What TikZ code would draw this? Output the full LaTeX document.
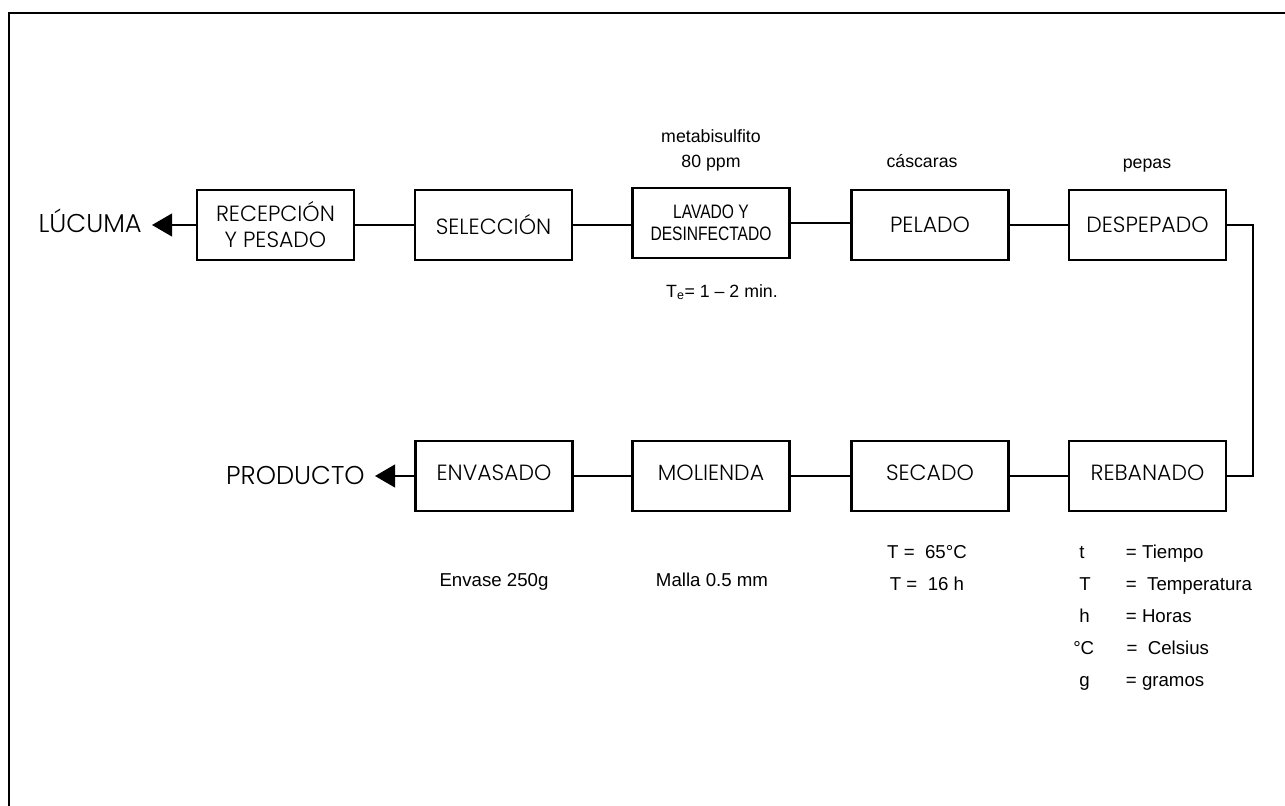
\documentclass[tikz,border=0pt]{standalone}
\usepackage{fontspec}
\setmainfont{Liberation Sans}
\newfontfamily\narrowarial{Liberation Sans}[FakeStretch=0.8]
\newfontfamily\gothic{Poppins}[UprightFont=* Light]
\usetikzlibrary{arrows.meta}
\begin{document}
\begin{tikzpicture}[x=0.75pt,y=-0.75pt,
  box/.style={draw,line width=1.6pt,minimum width=117.75pt,minimum height=52.5pt,inner sep=0pt,align=center,font=\gothic\fontsize{16.5}{19.5}\selectfont},
  lowbox/.style={box,text depth=5pt},
  conn/.style={line width=1.6pt},
  arr/.style={line width=1.6pt,-{Triangle[length=15pt,width=17pt]}},
  note/.style={font=\fontsize{13.3}{15}\selectfont,inner sep=0pt,anchor=base},
  bnote/.style={font=\fontsize{14}{16}\selectfont,inner sep=0pt,anchor=base},
  leg/.style={bnote,anchor=base west},
  big/.style={font=\gothic\fontsize{19.3}{22}\selectfont,inner xsep=7.5pt,inner ysep=0pt,anchor=base east}]
\useasboundingbox (0,0) rectangle (1285,806);
\draw[line width=2.2pt] (9,806) -- (9,13) -- (1285,13);
% top row
\node[box] (rec) at (275.5,225) {RECEPCIÓN\\Y PESADO};
\node[box] (sel) at (493.5,225) {SELECCIÓN};
\node[box,font=\narrowarial\fontsize{14.6}{16.5}\selectfont] (lav) at (711,223) {LAVADO Y\\DESINFECTADO};
\node[box] (pel) at (930,225) {PELADO};
\node[box] (desp) at (1147.5,225) {DESPEPADO};
% bottom row
\node[lowbox] (env) at (494,476) {ENVASADO};
\node[lowbox] (mol) at (711,476) {MOLIENDA};
\node[lowbox] (sec) at (930,476) {SECADO};
\node[lowbox] (reb) at (1147.5,476) {REBANADO};
% end labels
\node[big] (luc) at (152,233) {LÚCUMA};
\node[big] (prod) at (375,484) {PRODUCTO};
% connectors
\draw[arr] (rec.west) -- (rec.west -| luc.east);
\draw[conn] (rec.east) -- (sel.west);
\draw[conn] (sel.east) -- (sel.east -| lav.west);
\draw[conn] (lav.east) -- (lav.east -| pel.west);
\draw[conn] (pel.east) -- (desp.west);
\draw[conn] (desp.east) -- ++(26,0) |- (reb.east);
\draw[conn] (reb.west) -- (sec.east);
\draw[conn] (sec.west) -- (mol.east);
\draw[conn] (mol.west) -- (env.east);
\draw[arr] (env.west) -- (env.west -| prod.east);
% notes
\node[note] (meta1) at (711,143) {metabisulfito};
\node[note] (meta2) at (711,168) {80 ppm};
\node[note] (te) at (722,297) {T\textsubscript{e}= 1 – 2 min.};
\node[note] (casc) at (922,168) {cáscaras};
\node[note] (pep) at (1147,169) {pepas};
\node[bnote] (envn) at (494,586) {Envase 250g};
\node[bnote] (maln) at (712,586) {Malla 0.5 mm};
\node[bnote] (sec1) at (927,558) {T =\ \ 65°C};
\node[bnote] (sec2) at (927,590) {T =\ \ 16 h};
% legend
\node[leg] (l1) at (1079,558) {\makebox[35pt][l]{t}= Tiempo};
\node[leg] (l2) at (1079,590) {\makebox[35pt][l]{T}=\ \ Temperatura};
\node[leg] (l3) at (1079,622) {\makebox[35pt][l]{h}= Horas};
\node[leg] (l4) at (1073,654) {\makebox[40pt][l]{°C}=\ \ Celsius};
\node[leg] (l5) at (1079,686) {\makebox[35pt][l]{g}= gramos};
\end{tikzpicture}
\end{document}
